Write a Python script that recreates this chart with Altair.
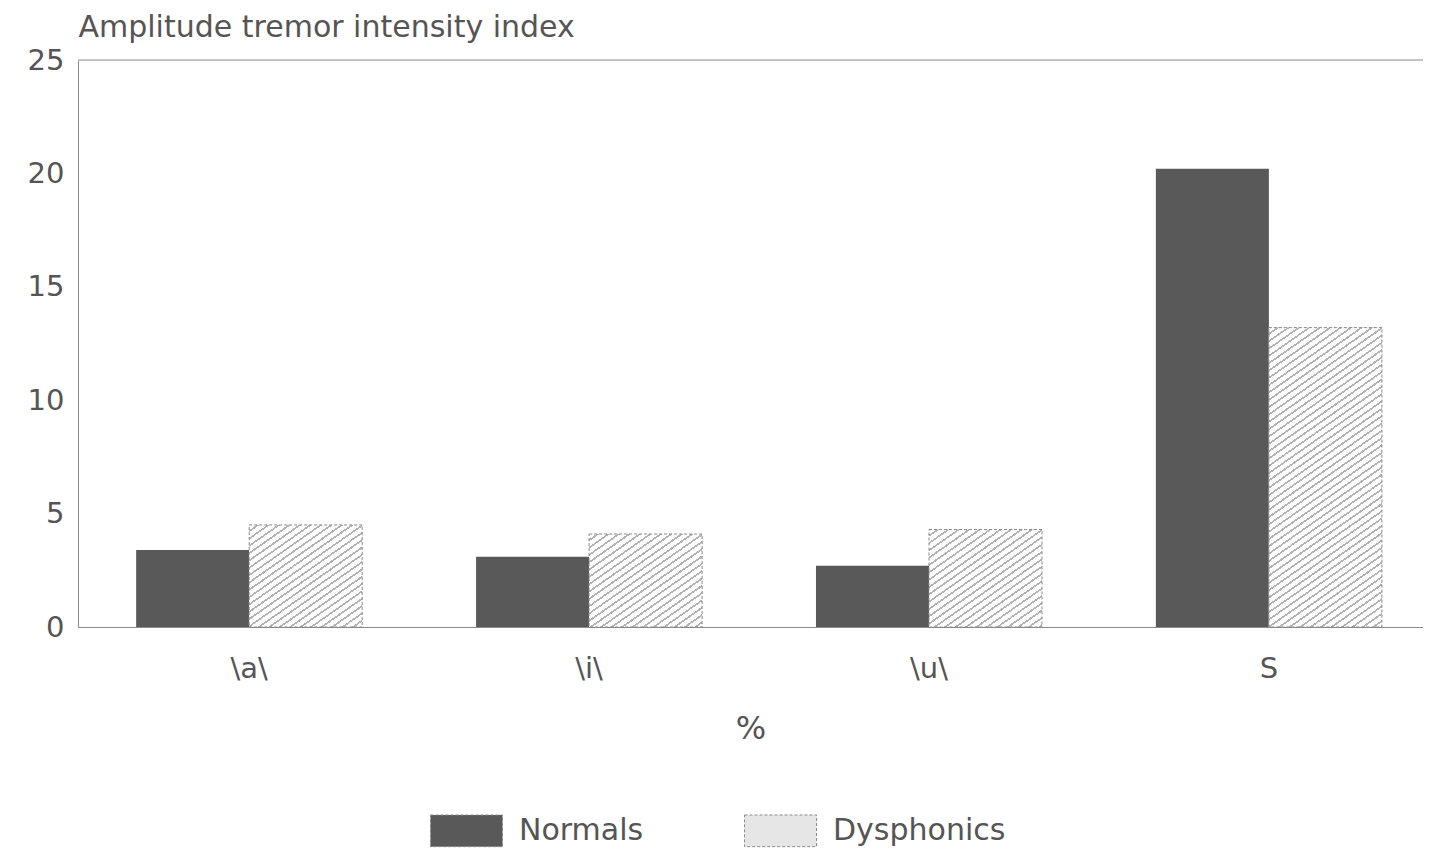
import math
import altair as alt
import pandas as pd

categories = ["\\a\\", "\\i\\", "\\u\\", "S"]
groups = ["Normals", "Dysphonics"]
normals = [3.4, 3.1, 2.7, 20.2]
dysphonics = [4.5, 4.1, 4.3, 13.2]
y_ticks = [0, 5, 10, 15, 20, 25]

rows = []
for c, n, d in zip(categories, normals, dysphonics):
    rows.append({"cat": c, "group": "Normals", "value": n})
    rows.append({"cat": c, "group": "Dysphonics", "value": d})
df = pd.DataFrame(rows)

W, H = 1345, 567
P_IN, P_OUT = 0.335, 0.146
step = W / (len(categories) - P_IN + 2 * P_OUT)
barw = step * (1 - P_IN) / 2
FONT = "DejaVu Sans"
TXT = "#555555"


def hatch(value):
    h = value / 25 * H
    th = math.radians(35)
    a, b = math.sin(th), math.cos(th)
    span = a * barw + b * h
    k = span / ((a * barw) ** 2 + (b * h) ** 2)
    period = 6.0
    stops = []
    i = 0
    while i * period < span:
        o0 = min(1.0, i * period / span)
        o1 = min(1.0, (i * period + period * 0.72) / span)
        o2 = min(1.0, (i + 1) * period / span)
        stops += [
            {"offset": o0, "color": "#fdfdfd"},
            {"offset": o1, "color": "#fdfdfd"},
            {"offset": o1, "color": "#b3b3b3"},
            {"offset": o2, "color": "#b3b3b3"},
        ]
        i += 1
    return {"gradient": "linear", "x1": 0, "y1": 0,
            "x2": k * a * barw, "y2": k * b * h, "stops": stops}


xenc = alt.X("cat:N", sort=categories,
             scale=alt.Scale(domain=categories, paddingInner=P_IN, paddingOuter=P_OUT, align=0.586),
             axis=alt.Axis(title="%", labelAngle=0, labelFontSize=29, labelColor=TXT, labelFont=FONT,
                           ticks=False, domainColor="#8a8a8a", labelPadding=27,
                           titleFontSize=32, titleFontWeight="normal", titleColor=TXT, titleFont=FONT,
                           titlePadding=30))
xoff = alt.XOffset("group:N", sort=groups, scale=alt.Scale(domain=groups))
yenc = alt.Y("value:Q", scale=alt.Scale(domain=[0, 25]),
             axis=alt.Axis(values=y_ticks, title="Amplitude tremor intensity index", titleAngle=0,
                           titleX=0, titleY=-18, titleAlign="left", titleBaseline="bottom",
                           titleFontSize=30, titleFontWeight="normal", titleColor=TXT, titleFont=FONT,
                           labelFontSize=29, labelColor=TXT, labelFont=FONT, ticks=False,
                           labelPadding=14, domainColor="#8a8a8a", grid=False))

base = alt.Chart(df).mark_bar().encode(
    x=xenc, xOffset=xoff, y=yenc,
    color=alt.Color("group:N", sort=groups,
                    scale=alt.Scale(domain=groups, range=["#595959", "#e6e6e6"]),
                    legend=alt.Legend(title=None, orient="none", direction="horizontal",
                                      legendX=352, legendY=734,
                                      labelFontSize=30, labelColor=TXT, labelFont=FONT,
                                      labelLimit=500,
                                      symbolType="M-1,-0.44L1,-0.44L1,0.44L-1,0.44Z",
                                      symbolSize=5184, symbolStrokeColor="#8a8a8a",
                                      symbolStrokeWidth=1, symbolDash=[3, 2],
                                      columnPadding=98, labelOffset=16,
                                      symbolOpacity=1)),
)

layers = [base]
for c, d in zip(categories, dysphonics):
    layers.append(
        alt.Chart(df).transform_filter(
            (alt.datum.cat == c) & (alt.datum.group == "Dysphonics")
        ).mark_bar(fill=hatch(d), stroke="#8a8a8a", strokeWidth=1, strokeDash=[3, 2]).encode(
            x=xenc, xOffset=xoff, y=yenc)
    )

top = alt.Chart(pd.DataFrame({"value": [25]})).mark_rule(color="#b5b5b5", strokeWidth=1.5).encode(
    y=yenc)
layers.append(top)

chart = alt.layer(*layers).properties(
    width=W, height=H,
    autosize=alt.AutoSizeParams(type="none"),
    padding={"left": 70, "top": 52, "right": 0, "bottom": 222},
).configure_view(stroke=None).configure(background="white")

chart.save("out.html", embed_options={"renderer": "svg", "actions": False})
